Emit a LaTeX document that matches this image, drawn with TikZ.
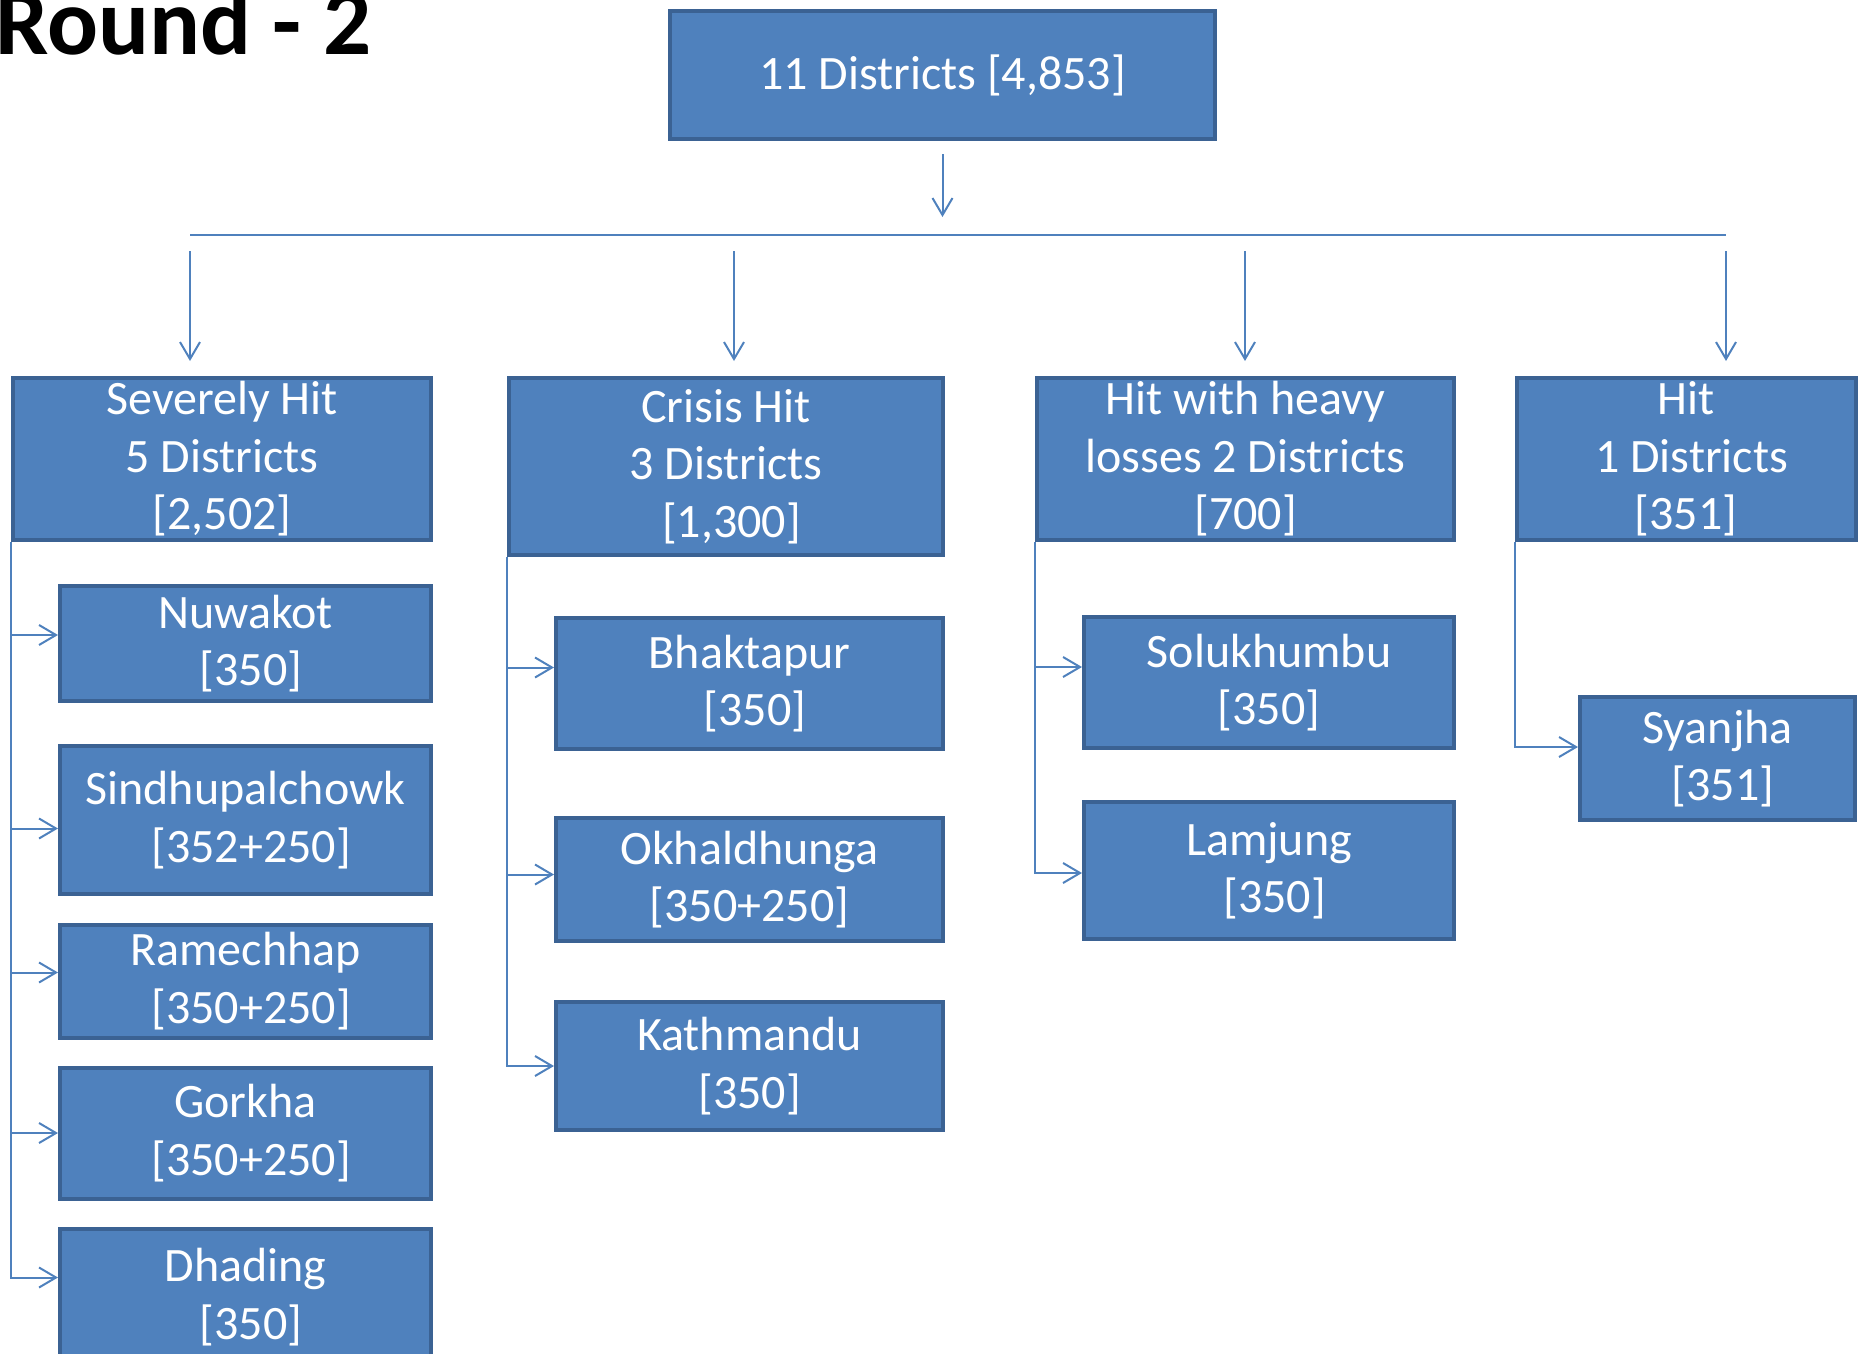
\documentclass[tikz,border=0pt]{standalone}
\usepackage{fontspec}
\setmainfont{Carlito}
\usepackage{xcolor}
\usetikzlibrary{
  arrows.meta,
}
\definecolor{accent}{HTML}{4F81BD}
\definecolor{accentdark}{HTML}{3B6293}
\newcommand{\padsp}{\hspace*{0.23em}}
\tikzset{
  dist box/.style 2 args={
    draw=accentdark,
    fill=accent,
    line width=4pt,
    text=white,
    inner sep=0pt,
    align=center,
    minimum width=#1,
    minimum height=#2,
    font=\fontsize{48}{57.5}\selectfont
  },
  link/.style={
    draw=accent,
    line width=2pt,
    -{Straight Barb[length=17pt,width=20pt,line width=2pt]}
  },
  bus line/.style={
    draw=accent,
    line width=2pt
  }
}

\begin{document}
\begin{tikzpicture}[x=1pt, y=-1pt]
  \useasboundingbox (0,0) rectangle (1860,1354);

  \node[anchor=base west, inner sep=0pt, font=\bfseries\fontsize{95}{114}\selectfont] (title) at (-5,55) {Round - 2};

  \node[dist box={545pt}{128pt}] (top) at (942.5,75) {11 Districts [4,853]};

  \coordinate (b1) at (190,235);
  \coordinate (b2) at (734,235);
  \coordinate (b3) at (1245,235);
  \coordinate (b4) at (1726,235);

  \draw[link, shorten <=13pt, shorten >=18pt] (top.south) -- (top.south |- b1);
  \draw[bus line] (b1) -- (b4);

  %% Categories
  \node[dist box={418pt}{162pt}] (sev) at (222,459) {Severely Hit\\5 Districts\\{[2,502]}};
  \node[dist box={434pt}{177pt}] (cri) at (726,466.5) {Crisis Hit\\3 Districts\\\padsp{[1,300]}};
  \node[dist box={417pt}{162pt}] (hvy) at (1245.5,459) {Hit with heavy\\losses 2 Districts\\{[700]}};
  \node[dist box={339pt}{162pt}] (hit) at (1686,459) {Hit\\\padsp 1 Districts\\{[351]}};

  \foreach \b/\n in {b1/sev, b2/cri, b3/hvy, b4/hit}
    \draw[link, shorten <=16pt, shorten >=15pt] (\b) -- (\b |- \n.north);

  %% Severely hit
  \node[dist box={371pt}{115pt}] (nuwakot) at (245.5,643.5) {Nuwakot\\\padsp{[350]}};
  \node[dist box={371pt}{148pt}] (sindhu) at (245.5,820) {Sindhupalchowk\\\padsp{[352+250]}};
  \node[dist box={371pt}{113pt}] (ramechhap) at (245.5,981) {Ramechhap\\\padsp{[350+250]}};
  \node[dist box={371pt}{131pt}] (gorkha) at (245.5,1133) {Gorkha\\\padsp{[350+250]}};
  \node[dist box={371pt}{136pt}] (dhading) at (245.5,1297) {Dhading\\\padsp{[350]}};

  \foreach \c/\s in {nuwakot/8.5, sindhu/-8.5, ramechhap/8.5, gorkha/0, dhading/19.5}
    \draw[link] (sev.south west) |- ([yshift=\s pt]\c.west);

  %% Crisis hit
  \node[dist box={387pt}{131pt}] (bhaktapur) at (749.5,683.5) {Bhaktapur\\\padsp{[350]}};
  \node[dist box={387pt}{123pt}] (okhal) at (749.5,879.5) {Okhaldhunga\\{[350+250]}};
  \node[dist box={387pt}{128pt}] (kathmandu) at (749.5,1066) {Kathmandu\\{[350]}};

  \foreach \c/\s in {bhaktapur/16, okhal/5, kathmandu/0}
    \draw[link] (cri.south west) |- ([yshift=\s pt]\c.west);

  %% Heavy losses
  \node[dist box={370pt}{131pt}] (solu) at (1269,682.5) {Solukhumbu\\{[350]}};
  \node[dist box={370pt}{137pt}] (lamjung) at (1269,870.5) {Lamjung\\\padsp{[350]}};

  \foreach \c/\s in {solu/15.5, lamjung/-2.5}
    \draw[link] (hvy.south west) |- ([yshift=\s pt]\c.west);

  %% Hit
  \node[dist box={275pt}{123pt}] (syanjha) at (1717.5,758.5) {Syanjha\\\padsp{[351]}};
  \draw[link] (hit.south west) |- ([yshift=11.5pt]syanjha.west);
\end{tikzpicture}
\end{document}
